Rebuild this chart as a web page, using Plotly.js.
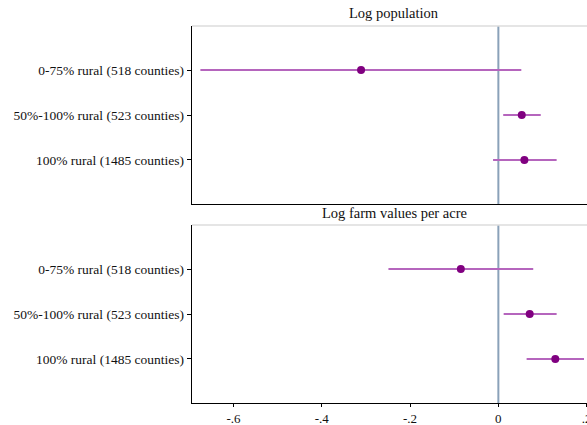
<!DOCTYPE html>
<html>
<head>
<meta charset="utf-8">
<script src="https://cdn.plot.ly/plotly-3.0.1.min.js"></script>
<style>html,body{margin:0;padding:0;background:#fff;}#chart{width:587px;height:425px;}</style>
</head>
<body>
<div id="chart"></div>
<script>
const categories = ["0-75% rural (518 counties)", "50%-100% rural (523 counties)", "100% rural (1485 counties)"];
const panelTitles = ["Log population", "Log farm values per acre"];
const popCoef = [-0.311, 0.053, 0.059];
const popLo = [-0.675, 0.011, -0.012];
const popHi = [0.052, 0.096, 0.132];
const farmCoef = [-0.085, 0.071, 0.129];
const farmLo = [-0.249, 0.012, 0.064];
const farmHi = [0.079, 0.132, 0.194];
const xTickVals = [-0.6, -0.4, -0.2, 0, 0.2];
const xTickText = ["-.6", "-.4", "-.2", "0", ".2"];

const pos = [1, 2, 3];
function trace(coef, lo, hi, xa, ya) {
  return {
    type: 'scatter', mode: 'markers', x: coef, y: pos, xaxis: xa, yaxis: ya,
    marker: {color: '#800080', size: 8},
    error_x: {type: 'data', symmetric: false,
      array: coef.map((c, i) => hi[i] - c),
      arrayminus: coef.map((c, i) => c - lo[i]),
      color: '#b565bd', thickness: 2, width: 0},
    hoverinfo: 'none', showlegend: false
  };
}
const font = {family: 'Liberation Serif, Times New Roman, serif', color: '#111'};
const xd = [192/587, 1];
const yTop = [221/425, 399/425];
const yBot = [22/425, 200/425];
const xRange = [-0.694, 0.2008];
const yCommon = {
  range: [3.98, 0.02], tickvals: pos, ticktext: categories, showline: true, linecolor: '#000', linewidth: 1.3,
  ticks: 'outside', ticklen: 4, tickcolor: '#000', showgrid: false, zeroline: false,
  tickfont: {size: 13.5}
};
const layout = {
  width: 587, height: 425, margin: {l: 0, r: 0, t: 0, b: 0},
  paper_bgcolor: '#fff', plot_bgcolor: '#fff', font: font, showlegend: false,
  xaxis: {domain: xd, anchor: 'y', range: xRange, showline: true, linecolor: '#000', linewidth: 1.3,
    showticklabels: false, ticks: '', showgrid: false, zeroline: false},
  yaxis: Object.assign({domain: yTop, anchor: 'x'}, yCommon),
  xaxis2: {domain: xd, anchor: 'y2', range: xRange, showline: true, linecolor: '#000', linewidth: 1.3,
    tickvals: xTickVals, ticktext: xTickText, ticks: 'outside', ticklen: 3, tickcolor: '#000',
    ticklabeloverflow: 'allow',
    showgrid: false, zeroline: false, tickfont: {size: 13}},
  yaxis2: Object.assign({domain: yBot, anchor: 'x2'}, yCommon),
  shapes: [
    {type: 'line', xref: 'x', yref: 'y domain', x0: 0, x1: 0, y0: 0, y1: 1, line: {color: '#8aa1b9', width: 2}, layer: 'below'},
    {type: 'line', xref: 'x2', yref: 'y2 domain', x0: 0, x1: 0, y0: 0, y1: 1, line: {color: '#8aa1b9', width: 2}, layer: 'below'},
    {type: 'line', xref: 'paper', yref: 'paper', x0: xd[0], x1: 1, y0: yTop[1], y1: yTop[1], line: {color: '#dcdcdc', width: 1.3}},
    {type: 'line', xref: 'paper', yref: 'paper', x0: xd[0], x1: 1, y0: yBot[1], y1: yBot[1], line: {color: '#dcdcdc', width: 1.3}}
  ],
  annotations: [
    {text: panelTitles[0], xref: 'paper', yref: 'paper', x: 394/587, y: (425-13)/425, showarrow: false, xanchor: 'center', yanchor: 'middle', font: {size: 14.5}},
    {text: panelTitles[1], xref: 'paper', yref: 'paper', x: 394/587, y: (425-213)/425, showarrow: false, xanchor: 'center', yanchor: 'middle', font: {size: 14.5}}
  ]
};
Plotly.newPlot('chart', [trace(popCoef, popLo, popHi, 'x', 'y'), trace(farmCoef, farmLo, farmHi, 'x2', 'y2')], layout, {staticPlot: true, displayModeBar: false});
</script>
</body>
</html>
